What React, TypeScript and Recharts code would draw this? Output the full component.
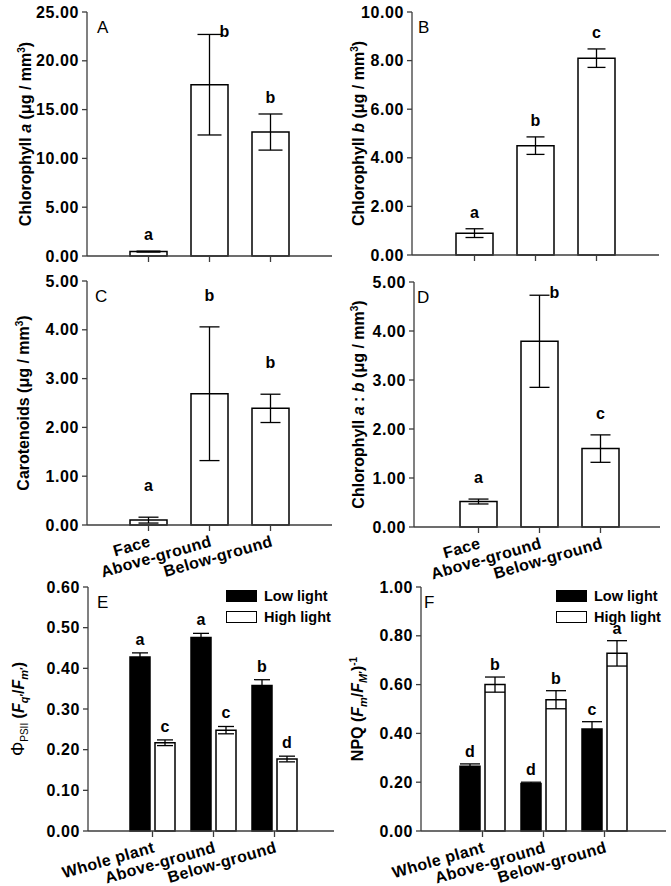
import { BarChart, Bar, XAxis, YAxis, ErrorBar, LabelList, Legend } from "recharts";

const FONT = '"Liberation Sans", Arial, Helvetica, sans-serif';
const FRAME = "#3c3c3c";

const tissues = ["Face", "Above-ground", "Below-ground"];
const plantParts = ["Whole plant", "Above-ground", "Below-ground"];
const lightLevels = ["Low light", "High light"];

// A - chlorophyll a
const chlA = [0.45, 17.55, 12.7];
const chlAErr = [0.05, 5.15, 1.85];
const chlALetters = ["a", "b", "b"];
const chlATicks = [0, 5, 10, 15, 20, 25];

// B - chlorophyll b
const chlB = [0.9, 4.5, 8.1];
const chlBErr = [0.18, 0.36, 0.38];
const chlBLetters = ["a", "b", "c"];
const chlBTicks = [0, 2, 4, 6, 8, 10];

// C - carotenoids
const carot = [0.1, 2.69, 2.39];
const carotErr = [0.06, 1.37, 0.29];
const carotLetters = ["a", "b", "b"];
const carotTicks = [0, 1, 2, 3, 4, 5];

// D - chl a:b
const ratio = [0.52, 3.79, 1.6];
const ratioErr = [0.05, 0.94, 0.28];
const ratioLetters = ["a", "b", "c"];
const ratioTicks = [0, 1, 2, 3, 4, 5];

// E - PSII efficiency
const psiiLow = [0.428, 0.476, 0.358];
const psiiLowErr = [0.01, 0.01, 0.014];
const psiiLowLetters = ["a", "a", "b"];
const psiiHigh = [0.217, 0.248, 0.177];
const psiiHighErr = [0.007, 0.009, 0.007];
const psiiHighLetters = ["c", "c", "d"];
const psiiTicks = [0, 0.1, 0.2, 0.3, 0.4, 0.5, 0.6];

// F - NPQ
const npqLow = [0.265, 0.195, 0.418];
const npqLowErr = [0.01, 0.005, 0.03];
const npqLowLetters = ["d", "d", "c"];
const npqHigh = [0.6, 0.538, 0.728];
const npqHighErr = [0.031, 0.037, 0.052];
const npqHighLetters = ["b", "b", "a"];
const npqTicks = [0, 0.2, 0.4, 0.6, 0.8, 1];

const single = (names, v, e, l) => names.map((name, i) => ({ name, v: v[i], e: e[i], l: l[i] }));
const paired = (names, lo, loE, loL, hi, hiE, hiL) =>
  names.map((name, i) => ({
    name,
    low: lo[i], lowE: loE[i], lowL: loL[i],
    high: hi[i], highE: hiE[i], highL: hiL[i],
  }));

const rowsA = single(tissues, chlA, chlAErr, chlALetters);
const rowsB = single(tissues, chlB, chlBErr, chlBLetters);
const rowsC = single(tissues, carot, carotErr, carotLetters);
const rowsD = single(tissues, ratio, ratioErr, ratioLetters);
const rowsE = paired(plantParts, psiiLow, psiiLowErr, psiiLowLetters, psiiHigh, psiiHighErr, psiiHighLetters);
const rowsF = paired(plantParts, npqLow, npqLowErr, npqLowLetters, npqHigh, npqHighErr, npqHighLetters);

const singleSeries = [{ key: "v", err: "e", letter: "l", fill: "#fff" }];
const pairSeries = [
  { key: "low", err: "lowE", letter: "lowL", fill: "#000" },
  { key: "high", err: "highE", letter: "highL", fill: "#fff" },
];

const NoTick = () => <g />;

const SlantTick = ({ x, y, payload }) => {
  const tx = x + 3;
  const ty = y + 13;
  return (
    <text
      x={tx}
      y={ty}
      transform={`rotate(-16 ${tx} ${ty})`}
      textAnchor="end"
      fontFamily={FONT}
      fontWeight="bold"
      fontSize={16}
      letterSpacing={0.4}
      fill="#000"
    >
      {payload.value}
    </text>
  );
};

const YTick = ({ x, y, payload }) => (
  <text
    x={x}
    y={y}
    dy={5.5}
    textAnchor="end"
    fontFamily={FONT}
    fontWeight="bold"
    fontSize={16}
    letterSpacing={0.6}
    fill="#000"
  >
    {Number(payload.value).toFixed(2)}
  </text>
);

// y title (rotated) plus the panel letter in the plot's top-left corner
function YTitle({ viewBox, titleCenter, titleParts, tagText, tagOffset }) {
  const cy = viewBox.y + viewBox.height / 2;
  const bx = titleCenter + 5.5;
  const plotLeft = viewBox.x + viewBox.width;
  return (
    <g>
      <text
        x={bx}
        y={cy}
        transform={`rotate(-90 ${bx} ${cy})`}
        textAnchor="middle"
        fontFamily={FONT}
        fontWeight="bold"
        fontSize={16}
        fill="#000"
      >
        {titleParts}
      </text>
      <text x={plotLeft + tagOffset} y={viewBox.y + 21} fontFamily={FONT} fontSize={17} fill="#000">
        {tagText}
      </text>
    </g>
  );
}

function LightLegend() {
  return (
    <div style={{ fontFamily: FONT, fontWeight: "bold", fontSize: 14.5, whiteSpace: "nowrap" }}>
      {lightLevels.map((name, i) => (
        <div key={name} style={{ display: "flex", alignItems: "center", height: 20.5 }}>
          <span
            style={{
              display: "inline-block",
              width: 31,
              height: 12,
              boxSizing: "border-box",
              border: "1.3px solid #000",
              background: i === 0 ? "#000" : "#fff",
              marginRight: 7,
            }}
          />
          <span>{name}</span>
        </div>
      ))}
    </div>
  );
}

// letter above the error bar; pushed beside the cap when it would hit the frame
const letterContent = (rows, s, gap, plotTop) => (p) => {
  const vb = p.viewBox || p;
  const r = rows[p.index];
  if (!r) return null;
  const pxPer = vb.height / r[s.key];
  const errTop = vb.y - r[s.err] * pxPer;
  const cx = vb.x + vb.width / 2;
  let tx = cx;
  let ty = errTop - gap;
  if (ty - 12 < plotTop + 3) {
    tx = cx + 15;
    ty = errTop + 3;
  }
  return (
    <text x={tx} y={ty} textAnchor="middle" fontFamily={FONT} fontWeight="bold" fontSize={16} fill="#000">
      {r[s.letter]}
    </text>
  );
};

function Panel({ box, plot, pad, rows, series, ticks, title, titleX, tag, tagDx, gap, slanted, barSize, capW, legendLeft }) {
  const yW = plot.left - box.left - 7;
  const mTop = plot.top - box.top;
  const mRight = box.left + box.width - plot.right;
  const xH = box.top + box.height - plot.bottom;
  const line = { stroke: FRAME, strokeWidth: 1.3 };
  return (
    <div style={{ position: "absolute", left: box.left, top: box.top }}>
      <BarChart
        width={box.width}
        height={box.height}
        data={rows}
        margin={{ top: mTop, right: mRight, bottom: 0, left: 7 }}
        barGap={5}
      >
        <XAxis
          dataKey="name"
          height={xH}
          padding={pad}
          tickSize={6}
          tickLine={line}
          axisLine={line}
          tick={slanted ? SlantTick : NoTick}
          interval={0}
        />
        <XAxis
          xAxisId="top"
          orientation="top"
          dataKey="name"
          height={0}
          tick={false}
          tickLine={false}
          axisLine={line}
        />
        <YAxis
          type="number"
          domain={[0, ticks[ticks.length - 1]]}
          ticks={ticks}
          width={yW}
          tickSize={5}
          tickMargin={3}
          tick={YTick}
          tickLine={line}
          axisLine={line}
          label={<YTitle titleCenter={titleX} titleParts={title} tagText={tag} tagOffset={tagDx} />}
        />
        <YAxis
          yAxisId="r"
          orientation="right"
          width={0}
          domain={[0, 1]}
          tick={false}
          tickLine={false}
          axisLine={line}
        />
        {legendLeft != null && (
          <Legend
            layout="vertical"
            align="center"
            verticalAlign="middle"
            content={LightLegend}
            wrapperStyle={{ left: legendLeft, top: 12, width: "auto", margin: 0 }}
          />
        )}
        {series.map((s) => (
          <Bar
            key={s.key}
            dataKey={s.key}
            fill={s.fill}
            stroke="#000"
            strokeWidth={1.5}
            barSize={barSize}
            isAnimationActive={false}
          >
            <ErrorBar dataKey={s.err} width={capW} stroke="#000" strokeWidth={1.3} />
            <LabelList dataKey={s.letter} content={letterContent(rows, s, gap, mTop)} />
          </Bar>
        ))}
      </BarChart>
    </div>
  );
}

const sup3 = (
  <>
    <tspan dy={-6} fontSize={10}>3</tspan>
    <tspan dy={6}>)</tspan>
  </>
);

export default function App() {
  return (
    <div style={{ position: "absolute", left: 0, top: 0, width: 671, height: 886, background: "#fff" }}>
      <Panel
        box={{ left: 0, top: 0, width: 340, height: 268 }}
        plot={{ left: 87, right: 332, top: 12, bottom: 256 }}
        pad={{ left: 31, right: 31 }}
        rows={rowsA}
        series={singleSeries}
        ticks={chlATicks}
        titleX={25}
        title={
          <>
            <tspan>Chlorophyll </tspan>
            <tspan fontStyle="italic">a</tspan>
            <tspan>  (μg / mm</tspan>
            {sup3}
          </>
        }
        tag="A"
        tagDx={10}
        gap={11}
        barSize={37}
        capW={12}
      />
      <Panel
        box={{ left: 335, top: 0, width: 336, height: 268 }}
        plot={{ left: 412, right: 659, top: 12, bottom: 255 }}
        pad={{ left: 32, right: 32 }}
        rows={rowsB}
        series={singleSeries}
        ticks={chlBTicks}
        titleX={23}
        title={
          <>
            <tspan>Chlorophyll </tspan>
            <tspan fontStyle="italic">b</tspan>
            <tspan> (μg / mm</tspan>
            {sup3}
          </>
        }
        tag="B"
        tagDx={6}
        gap={11}
        barSize={37}
        capW={9}
      />
      <Panel
        box={{ left: 0, top: 268, width: 340, height: 312 }}
        plot={{ left: 87, right: 332, top: 281, bottom: 525 }}
        pad={{ left: 31, right: 31 }}
        rows={rowsC}
        series={singleSeries}
        ticks={carotTicks}
        titleX={23}
        title={
          <>
            <tspan>Carotenoids (μg / mm</tspan>
            {sup3}
          </>
        }
        tag="C"
        tagDx={8}
        gap={26}
        slanted
        barSize={37}
        capW={10}
      />
      <Panel
        box={{ left: 335, top: 268, width: 336, height: 312 }}
        plot={{ left: 414, right: 660, top: 282, bottom: 527 }}
        pad={{ left: 34, right: 29 }}
        rows={rowsD}
        series={singleSeries}
        ticks={ratioTicks}
        titleX={23}
        title={
          <>
            <tspan>Chlorophyll </tspan>
            <tspan fontStyle="italic">a</tspan>
            <tspan> : </tspan>
            <tspan fontStyle="italic">b</tspan>
            <tspan> (μg / mm</tspan>
            {sup3}
          </>
        }
        tag="D"
        tagDx={3}
        gap={16}
        slanted
        barSize={37}
        capW={10}
      />
      <Panel
        box={{ left: 0, top: 574, width: 340, height: 312 }}
        plot={{ left: 88, right: 334, top: 587, bottom: 831 }}
        pad={{ left: 34, right: 29 }}
        rows={rowsE}
        series={pairSeries}
        ticks={psiiTicks}
        titleX={18}
        title={
          <>
            <tspan fontWeight="normal" fontSize={18}>Φ</tspan>
            <tspan fontWeight="normal" fontSize={10} dy={4}>PSII</tspan>
            <tspan dy={-4}> (</tspan>
            <tspan fontStyle="italic">F</tspan>
            <tspan fontStyle="italic" fontSize={11} dy={4}>q</tspan>
            <tspan fontSize={11}>′</tspan>
            <tspan dy={-4}>/</tspan>
            <tspan fontStyle="italic">F</tspan>
            <tspan fontStyle="italic" fontSize={11} dy={4}>m</tspan>
            <tspan fontSize={11}>′</tspan>
            <tspan dy={-4}>)</tspan>
          </>
        }
        tag="E"
        tagDx={9}
        gap={8}
        slanted
        barSize={20}
        capW={8}
        legendLeft={226}
      />
      <Panel
        box={{ left: 335, top: 574, width: 336, height: 312 }}
        plot={{ left: 421, right: 666, top: 587, bottom: 831 }}
        pad={{ left: 31, right: 31 }}
        rows={rowsF}
        series={pairSeries}
        ticks={npqTicks}
        titleX={22}
        title={
          <>
            <tspan>NPQ (</tspan>
            <tspan fontStyle="italic">F</tspan>
            <tspan fontStyle="italic" fontSize={11} dy={4}>m</tspan>
            <tspan dy={-4}>/</tspan>
            <tspan fontStyle="italic">F</tspan>
            <tspan fontStyle="italic" fontSize={11} dy={4}>M</tspan>
            <tspan fontSize={11}>′</tspan>
            <tspan dy={-4}>)</tspan>
            <tspan fontSize={10} dy={-6}>-1</tspan>
          </>
        }
        tag="F"
        tagDx={3}
        gap={7}
        slanted
        barSize={20}
        capW={10}
        legendLeft={221}
      />
    </div>
  );
}
